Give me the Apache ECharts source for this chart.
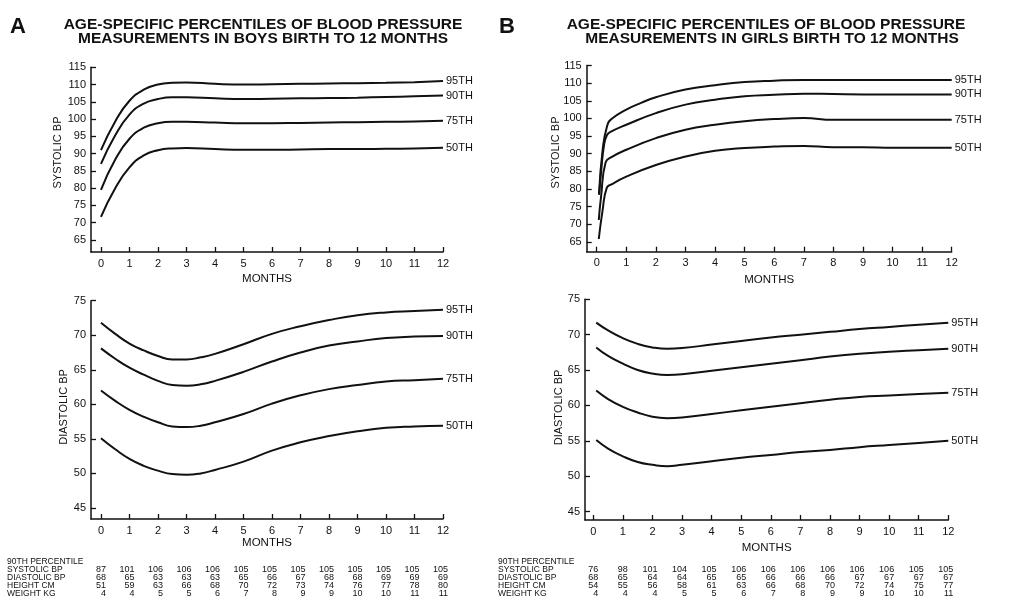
<!DOCTYPE html>
<html>
<head>
<meta charset="utf-8">
<script src="https://cdn.jsdelivr.net/npm/echarts@6/dist/echarts.min.js"></script>
<style>html,body{margin:0;padding:0;background:#fff}#c{width:1011px;height:612px}</style>
</head>
<body>
<div id="c"></div>
<script>
// ---------- labels ----------
const percentileNames = ['95TH', '90TH', '75TH', '50TH'];
const monthTicks = [0,1,2,3,4,5,6,7,8,9,10,11,12];
const systolicTicks = [65,70,75,80,85,90,95,100,105,110,115];
const diastolicTicks = [45,50,55,60,65,70,75];
const tableHeader = '90TH PERCENTILE';
const tableRowLabels = ['SYSTOLIC BP', 'DIASTOLIC BP', 'HEIGHT CM', 'WEIGHT KG'];

// ---------- Boys systolic ----------
const boysSysMonths = [0,0.5,1,1.5,2,2.5,3,4,5,6,7,8,9,10,11,12];
const boysSys95 = [91,99.3,105.3,108.5,110,110.5,110.6,110.2,110,110.1,110.2,110.3,110.4,110.5,110.7,111];
const boysSys90 = [87,95.3,101.3,104.5,105.8,106.3,106.3,106,105.8,105.9,106,106.1,106.2,106.4,106.6,106.8];
const boysSys75 = [79.5,88.3,94.3,97.5,98.8,99.2,99.2,99,98.8,98.8,98.9,99,99.1,99.2,99.3,99.5];
const boysSys50 = [71.7,80,86,89.5,91,91.5,91.6,91.3,91.1,91.1,91.2,91.3,91.3,91.4,91.5,91.7];

// ---------- Boys diastolic ----------
const boysDiaMonths = [0,0.5,1,1.5,2,2.5,3,3.5,4,5,6,7,8,9,10,11,12];
const boysDia95 = [71.8,70.2,68.8,67.8,67.0,66.5,66.5,66.8,67.3,68.7,70.2,71.3,72.2,72.9,73.3,73.5,73.7];
const boysDia90 = [68.1,66.6,65.3,64.3,63.4,62.8,62.7,62.9,63.4,64.7,66.2,67.5,68.5,69.1,69.6,69.8,69.9];
const boysDia75 = [62.0,60.5,59.2,58.2,57.4,56.8,56.7,56.9,57.4,58.6,60.1,61.3,62.2,62.8,63.3,63.5,63.7];
const boysDia50 = [55.1,53.5,52.1,51.1,50.4,49.9,49.8,50.0,50.5,51.7,53.3,54.5,55.4,56.1,56.6,56.8,56.9];

// ---------- Girls systolic ----------
const girlsSys95Months = [0.08,0.2,0.35,0.5,1,1.5,2,3,4,5,6,7,8,9,10,11,12];
const girlsSys95 = [78.6,91,97.8,99.8,102.5,104.4,106,108.2,109.4,110.3,110.7,110.9,110.9,110.9,110.9,110.9,110.9];
const girlsSys90Months = [0.08,0.15,0.25,0.35,0.5,1,2,3,4,5,6,7,8,9,10,11,12];
const girlsSys90 = [78.3,85,92.5,95.3,96.3,98.2,101.5,103.9,105.3,106.3,106.7,107,106.9,106.8,106.8,106.8,106.8];
const girlsSys75Months = [0.07,0.15,0.3,0.5,1,2,3,4,5,6,7,8,9,10,11,12];
const girlsSys75 = [71.2,78,87.5,89,91.1,94.4,96.8,98.2,99.2,99.8,100.1,99.6,99.6,99.6,99.6,99.6];
const girlsSys50Months = [0.07,0.2,0.34,0.5,1,2,3,4,5,6,7,8,9,10,11,12];
const girlsSys50 = [65.8,74,80.3,81.3,83.5,86.8,89.2,90.8,91.6,92.0,92.2,91.8,91.8,91.7,91.7,91.7];

// ---------- Girls diastolic ----------
const girlsDiaMonths = [0.1,0.5,1,1.5,2,2.5,3,4,5,6,7,8,9,10,11,12];
const girlsDia95 = [71.7,70.6,69.5,68.7,68.2,68.0,68.1,68.6,69.1,69.6,70.0,70.4,70.8,71.1,71.4,71.7];
const girlsDia90 = [68.2,67.0,65.9,65.0,64.5,64.3,64.4,64.9,65.4,65.9,66.4,66.9,67.3,67.6,67.8,68.0];
const girlsDia75 = [62.1,60.9,59.8,59.0,58.4,58.2,58.3,58.8,59.3,59.8,60.3,60.8,61.2,61.4,61.6,61.8];
const girlsDia50 = [55.1,53.9,52.8,52.0,51.6,51.4,51.6,52.1,52.6,53.0,53.4,53.7,54.1,54.4,54.7,55.0];

// ---------- 90th percentile tables ----------
const boysTableSys = [87,101,106,106,106,105,105,105,105,105,105,105,105];
const boysTableDia = [68,65,63,63,63,65,66,67,68,68,69,69,69];
const boysTableHeight = [51,59,63,66,68,70,72,73,74,76,77,78,80];
const boysTableWeight = [4,4,5,5,6,7,8,9,9,10,10,11,11];
const girlsTableSys = [76,98,101,104,105,106,106,106,106,106,106,105,105];
const girlsTableDia = [68,65,64,64,65,65,66,66,66,67,67,67,67];
const girlsTableHeight = [54,55,56,58,61,63,66,68,70,72,74,75,77];
const girlsTableWeight = [4,4,4,5,5,6,7,8,9,9,10,10,11];

// ---------- chart ----------
const INK = '#111';
const FONT = '"Liberation Sans", Arial, Helvetica, sans-serif';
const chart = echarts.init(document.getElementById('c'), null, {renderer: 'canvas'});

function xAxisCfg(gi, min, gap) {
  return {
    type: 'value', gridIndex: gi, min: min, max: 12,
    name: 'MONTHS', nameLocation: 'middle', nameGap: gap,
    nameTextStyle: {color: INK, fontSize: 11.5, fontFamily: FONT},
    axisLine: {show: true, onZero: false, lineStyle: {color: INK, width: 1.5}},
    axisTick: {show: true, inside: true, length: 5, customValues: monthTicks, lineStyle: {color: INK, width: 1.3}},
    axisLabel: {show: true, customValues: monthTicks, margin: 6, color: INK, fontSize: 11, fontFamily: FONT},
    splitLine: {show: false}
  };
}
function yAxisCfg(gi, min, max, ticks) {
  return {
    type: 'value', gridIndex: gi, min: min, max: max,
    axisLine: {show: true, onZero: false, lineStyle: {color: INK, width: 1.5}},
    axisTick: {show: true, inside: true, length: 5, customValues: ticks, lineStyle: {color: INK, width: 1.3}},
    axisLabel: {show: true, customValues: ticks, margin: 5, color: INK, fontSize: 11, fontFamily: FONT},
    splitLine: {show: false}
  };
}
function pairs(xs, ys) { return xs.map((x, i) => [x, ys[i]]); }
function lineSeries(gi, name, xs, ys) {
  return {
    type: 'line', name: name, xAxisIndex: gi, yAxisIndex: gi,
    data: pairs(xs, ys), smooth: 0.5,
    symbol: 'none', silent: true, animation: false,
    lineStyle: {color: INK, width: 2},
    endLabel: {show: true, formatter: name, distance: 3, color: INK, fontSize: 11, fontFamily: FONT}
  };
}

const series = [];
[boysSys95, boysSys90, boysSys75, boysSys50].forEach((d, i) => series.push(lineSeries(0, percentileNames[i], boysSysMonths, d)));
[boysDia95, boysDia90, boysDia75, boysDia50].forEach((d, i) => series.push(lineSeries(1, percentileNames[i], boysDiaMonths, d)));
[[girlsSys95Months, girlsSys95], [girlsSys90Months, girlsSys90], [girlsSys75Months, girlsSys75], [girlsSys50Months, girlsSys50]]
  .forEach((p, i) => series.push(lineSeries(2, percentileNames[i], p[0], p[1])));
[girlsDia95, girlsDia90, girlsDia75, girlsDia50].forEach((d, i) => series.push(lineSeries(3, percentileNames[i], girlsDiaMonths, d)));

chart.setOption({
  backgroundColor: '#fff',
  animation: false,
  grid: [
    {left: 91, top: 67.3, width: 352, height: 184.7},
    {left: 91, top: 300.7, width: 352, height: 218.3},
    {left: 586.7, top: 65.5, width: 365, height: 186.2},
    {left: 585, top: 299.3, width: 363.3, height: 220.7}
  ],
  xAxis: [xAxisCfg(0, -0.35, 21), xAxisCfg(1, -0.35, 18), xAxisCfg(2, -0.338, 22), xAxisCfg(3, -0.28, 22)],
  yAxis: [yAxisCfg(0, 61.5, 115, systolicTicks), yAxisCfg(1, 43.4, 75, diastolicTicks),
          yAxisCfg(2, 62.2, 115, systolicTicks), yAxisCfg(3, 43.8, 75, diastolicTicks)],
  series: series
});

// ---------- text graphics ----------
function txt(x, y, text, opt) {
  opt = opt || {};
  return {
    type: 'text', x: x, y: y, rotation: opt.rotation || 0, silent: true,
    style: {
      text: text, fill: INK,
      fontSize: opt.size || 11, fontWeight: opt.weight || 'normal',
      fontFamily: opt.family || FONT,
      align: opt.align || 'left', verticalAlign: 'middle',
      textAlign: opt.align || 'left', textVerticalAlign: 'middle'
    }
  };
}
const g = [];
g.push(txt(10, 27, 'A', {size: 22, weight: 'bold'}));
g.push(txt(499, 27, 'B', {size: 22, weight: 'bold'}));
g.push(txt(263, 25, 'AGE-SPECIFIC PERCENTILES OF BLOOD PRESSURE', {size: 15.5, weight: 'bold', align: 'center'}));
g.push(txt(263, 38.5, 'MEASUREMENTS IN BOYS BIRTH TO 12 MONTHS', {size: 15.5, weight: 'bold', align: 'center'}));
g.push(txt(766, 25, 'AGE-SPECIFIC PERCENTILES OF BLOOD PRESSURE', {size: 15.5, weight: 'bold', align: 'center'}));
g.push(txt(772, 38.5, 'MEASUREMENTS IN GIRLS BIRTH TO 12 MONTHS', {size: 15.5, weight: 'bold', align: 'center'}));
g.push(txt(58, 152.5, 'SYSTOLIC BP', {rotation: Math.PI / 2, align: 'center'}));
g.push(txt(63.5, 407, 'DIASTOLIC BP', {rotation: Math.PI / 2, align: 'center'}));
g.push(txt(556, 152.5, 'SYSTOLIC BP', {rotation: Math.PI / 2, align: 'center'}));
g.push(txt(558.5, 407.5, 'DIASTOLIC BP', {rotation: Math.PI / 2, align: 'center'}));

function addTable(axisIdx, left, rows) {
  const rowY = [561.5, 569.5, 577.5, 585.5, 593.5];
  g.push(txt(left, rowY[0], tableHeader, {size: 8.5}));
  rows.forEach((vals, r) => {
    g.push(txt(left, rowY[r + 1], tableRowLabels[r], {size: 8.5}));
    vals.forEach((v, c) => {
      const px = chart.convertToPixel({xAxisIndex: axisIdx}, monthTicks[c]);
      g.push(txt(px + 5, rowY[r + 1], String(v), {size: 9, align: 'right', family: '"Liberation Sans Narrow", ' + FONT}));
    });
  });
}
addTable(1, 7, [boysTableSys, boysTableDia, boysTableHeight, boysTableWeight]);
addTable(3, 498, [girlsTableSys, girlsTableDia, girlsTableHeight, girlsTableWeight]);

chart.setOption({graphic: {elements: g}});
</script>
</body>
</html>
